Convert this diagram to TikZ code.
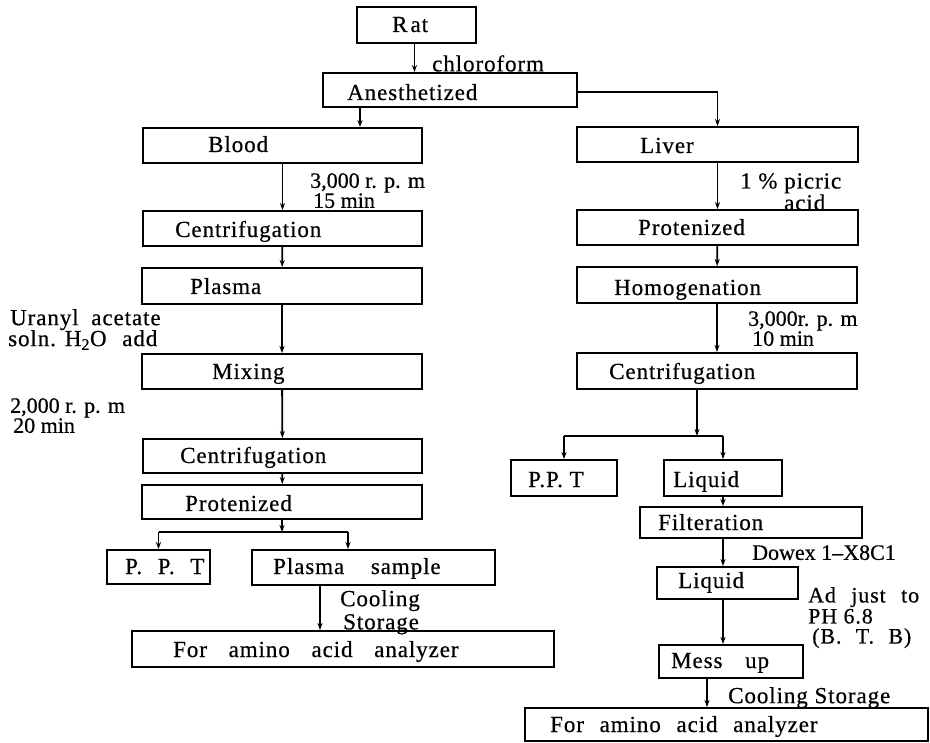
\documentclass[tikz,border=0pt]{standalone}
\usepackage{fontspec}
\setmainfont{Liberation Serif}[LetterSpace=4,FakeBold=0.5]
\newfontfamily\plainfont{Liberation Serif}[FakeBold=0.5]
\usetikzlibrary{arrows.meta}
\tikzset{
  box/.style={draw, line width=1.9pt, inner sep=0pt},
  txt/.style={inner sep=0pt, anchor=base west, font=\fontsize{23}{24}\selectfont},
  lbl/.style={inner sep=0pt, anchor=north west, align=left, font=\fontsize{23}{20}\selectfont},
  plbl/.style={inner sep=0pt, anchor=north west, align=left, font=\plainfont\fontsize{22}{20}\selectfont},
  ln/.style={line width=1.8pt},
  arr/.style={line width=1.8pt, -{Stealth[length=7pt,width=5pt]}}
}
\newcommand{\gap}[1]{\ \hspace{#1pt}}
\newcommand{\ind}[1]{\hspace*{#1pt}}
\begin{document}
\begin{tikzpicture}[x=1pt,y=-1pt]
\useasboundingbox (0,0) rectangle (930,743);
% boxes
\node[box, minimum width=119pt, minimum height=36pt] (rat) at (416.5,25) {};
\node[box, minimum width=254pt, minimum height=34pt] (anes) at (450,90) {};
\node[box, minimum width=279pt, minimum height=35pt] (blood) at (282.5,145.5) {};
\node[box, minimum width=281pt, minimum height=35pt] (liver) at (717.5,144.5) {};
\node[box, minimum width=279pt, minimum height=35pt] (centLa) at (282.5,228.5) {};
\node[box, minimum width=281pt, minimum height=35pt] (protR) at (717.5,227.5) {};
\node[box, minimum width=280pt, minimum height=36pt] (plasma) at (282,286) {};
\node[box, minimum width=280pt, minimum height=36pt] (homog) at (717,285) {};
\node[box, minimum width=280pt, minimum height=35pt] (mixing) at (282,371.5) {};
\node[box, minimum width=280pt, minimum height=36pt] (centR) at (717,371) {};
\node[box, minimum width=279pt, minimum height=34pt] (centLb) at (282.5,456) {};
\node[box, minimum width=280pt, minimum height=34pt] (protL) at (282,502) {};
\node[box, minimum width=106pt, minimum height=36pt] (pptR) at (564,478) {};
\node[box, minimum width=118pt, minimum height=36pt] (liqR) at (723,478) {};
\node[box, minimum width=222pt, minimum height=31pt] (filt) at (751,522.5) {};
\node[box, minimum width=141pt, minimum height=32pt] (liqB) at (727.5,583) {};
\node[box, minimum width=144pt, minimum height=33pt] (mess) at (731,661.5) {};
\node[box, minimum width=403pt, minimum height=33pt] (aminoR) at (726.5,724.5) {};
\node[box, minimum width=103pt, minimum height=34pt] (pptL) at (158.5,567) {};
\node[box, minimum width=243pt, minimum height=35pt] (psample) at (373.5,567.5) {};
\node[box, minimum width=422pt, minimum height=36pt] (aminoL) at (343,649) {};
% box texts
\node[txt] (tRat) at (392,32) {R\kern3pt at};
\node[txt] (tAnes) at (347,100) {Anesthetized};
\node[txt] (tBlood) at (208,152) {Blood};
\node[txt] (tLiver) at (640,153) {Liver};
\node[txt] (tCentLa) at (175,237) {Centrifugation};
\node[txt] (tProtR) at (638,235) {Protenized};
\node[txt] (tPlasma) at (190,294) {Plasma};
\node[txt] (tHomog) at (614,295) {Homogenation};
\node[txt] (tMixing) at (212,379) {Mixing};
\node[txt] (tCentR) at (609,379) {Centrifugation};
\node[txt] (tCentLb) at (180,463) {Centrifugation};
\node[txt] (tProtL) at (185,511) {Protenized};
\node[txt] (tPptR) at (528,487) {P.P. T};
\node[txt] (tLiqR) at (673,487) {Liquid};
\node[txt] (tFilt) at (658,530) {Filteration};
\node[txt] (tLiqB) at (678,588) {Liquid};
\node[txt] (tMess) at (671,668) {Mess\gap{16}up};
\node[txt] (tAminoR) at (550,732) {For\gap{9}amino\gap{9}acid\gap{9}analyzer};
\node[txt] (tPptL) at (125,574) {P.\gap{9}P.\gap{9}T};
\node[txt] (tPsample) at (273,574) {Plasma\gap{20}sample};
\node[txt] (tAminoL) at (173,657) {For\gap{15}amino\gap{15}acid\gap{15}analyzer};
% labels
\node[lbl] (lChl) at (432,55) {chloroform};
\node[plbl] (lRpmA) at (310,173) {3,000 r. p. m\\\ind{3}15 min};
\node[lbl] (lPic) at (740,173) {1 \% picric\\\ind{44}acid};
\node[lbl] (lUra) at (10,309) {Uranyl\gap{6}acetate\\[-1pt]\ind{-2}soln. H\textsubscript{2}O\gap{9}add};
\node[plbl] (lRpmB) at (748,311) {3,000r. p. m\\\ind{4}10 min};
\node[plbl] (lRpmC) at (10,398) {2,000 r. p. m\\\ind{3}20 min};
\node[lbl] (lCool) at (340,590) {Cooling\\[2pt]\ind{3}Storage};
\node[plbl] (lDowex) at (752,545) {Dowex 1–X8C1};
\node[lbl, font=\fontsize{22}{20}\selectfont] (lAdj) at (808,587) {Ad\gap{9}just\gap{9}to\\[1pt]PH 6.8\\\ind{4}(B.\gap{8}T.\gap{8}B)};
\node[lbl] (lCoolB) at (728,687) {Cooling Storage};
% connectors
\coordinate (jL) at (282,532);
\coordinate (jR) at (697,436);
\draw[arr] ([xshift=-2pt]rat.south) -- ([xshift=-2pt]rat.south |- anes.north);
\draw[arr] ([xshift=-90pt]anes.south) -- ([xshift=-90pt]anes.south |- blood.north);
\draw[arr] ([yshift=-2pt]anes.east) -| (liver.north);
\draw[arr] (blood) -- (centLa);
\draw[arr] (centLa) -- (plasma);
\draw[arr] (plasma) -- (mixing);
\draw[arr] (mixing) -- (centLb);
\draw[arr] (centLb) -- (protL);
\draw[arr] (protL.south) -- (jL);
\draw[ln] (pptL.north |- jL) -- ([xshift=-25.5pt]psample.north |- jL);
\draw[arr] (pptL.north |- jL) -- (pptL.north);
\draw[arr] ([xshift=-25.5pt]psample.north |- jL) -- ([xshift=-25.5pt]psample.north);
\draw[arr] ([xshift=-53.5pt]psample.south) -- ([xshift=-53.5pt]psample.south |- aminoL.north);
\draw[arr] (liver) -- (protR);
\draw[arr] (protR) -- (homog);
\draw[arr] (homog) -- (centR);
\draw[arr] ([xshift=-20pt]centR.south) -- (jR);
\draw[ln] (pptR.north |- jR) -- (liqR.north |- jR);
\draw[arr] (pptR.north |- jR) -- (pptR.north);
\draw[arr] (liqR.north |- jR) -- (liqR.north);
\draw[arr] (liqR) -- (liqR |- filt.north);
\draw[arr] (liqR |- filt.south) -- (liqR |- liqB.north);
\draw[arr] (liqR |- liqB.south) -- (liqR |- mess.north);
\draw[arr] ([xshift=-24pt]mess.south) -- ([xshift=-24pt]mess.south |- aminoR.north);
\end{tikzpicture}
\end{document}
